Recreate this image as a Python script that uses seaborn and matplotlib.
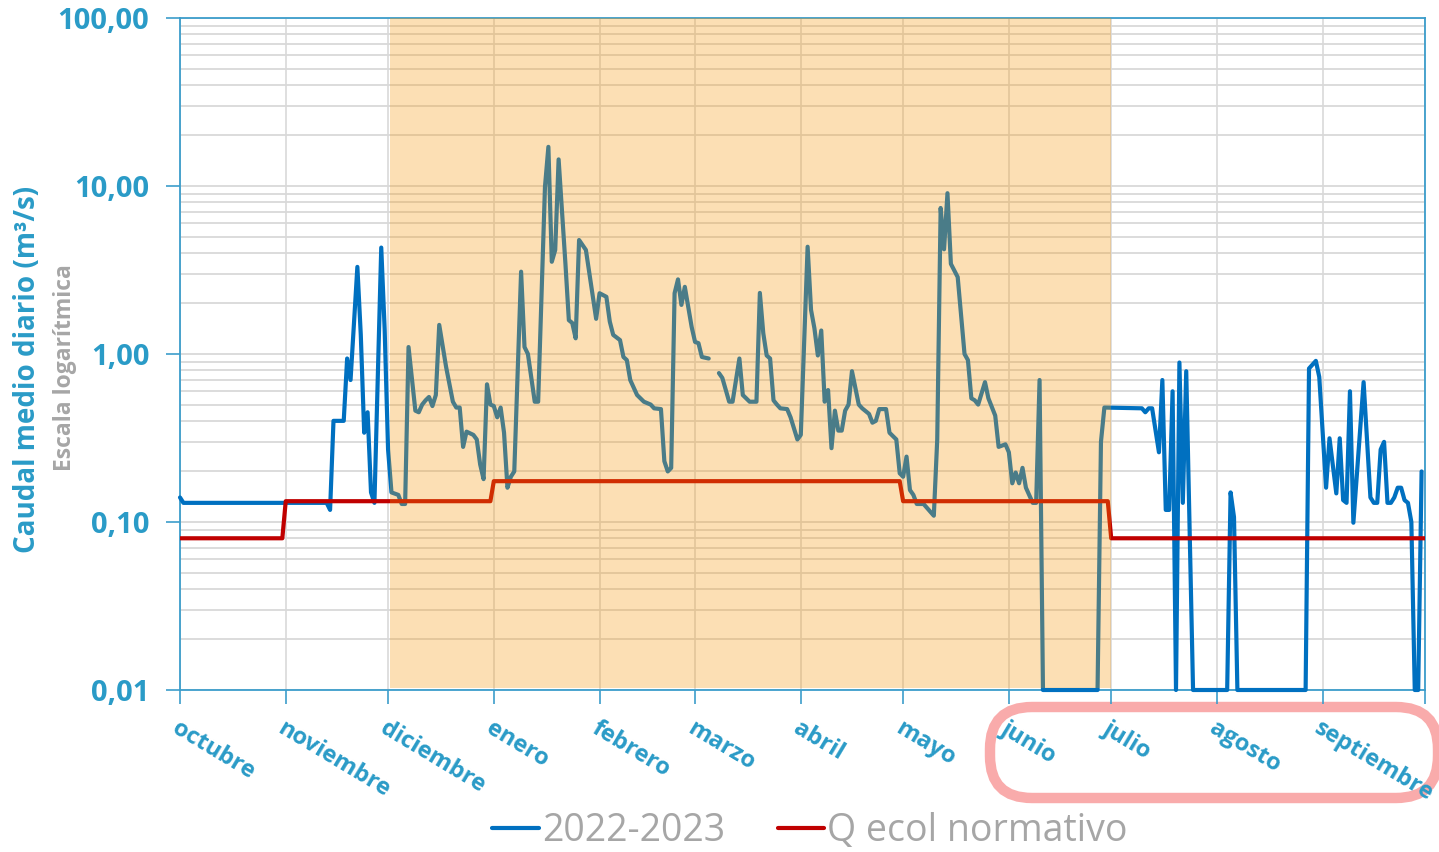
import numpy as np
import pandas as pd
import matplotlib
matplotlib.use("Agg")
import matplotlib.pyplot as plt
import matplotlib.transforms as mtransforms
from matplotlib.patches import FancyBboxPatch
from matplotlib.lines import Line2D
from matplotlib.ticker import FixedLocator, FuncFormatter, LogLocator, NullFormatter
import seaborn as sns

# ---------------- data ----------------
start_date = "2022-10-01"
month_labels = ["octubre", "noviembre", "diciembre", "enero", "febrero", "marzo",
                "abril", "mayo", "junio", "julio", "agosto", "septiembre"]
y_ticks = [0.01, 0.1, 1, 10, 100]
y_tick_labels = ["0,01", "0,10", "1,00", "10,00", "100,00"]
series_names = ["2022-2023", "Q ecol normativo"]
band_dates = ["2022-12-01", "2023-07-01"]

# daily flow 2022-2023 (day offset from 1 Oct 2022, m3/s); nan = missing data
blue_day = [0, 1, 43, 44, 45, 48, 49, 50, 52, 53, 54, 55, 56, 57, 59, 60,
            61, 62, 64, 65, 66, 67, 69, 70, 71, 72, 73, 74, 75, 76, 78, 80, 81, 82, 83, 84,
            86, 87, 88, 89, 90, 91,
            92, 93, 94, 95, 96, 97, 98, 100, 101, 102, 104, 105, 107, 108, 109, 110, 111,
            113, 114, 115, 116, 117, 119, 122,
            123, 125, 126, 127, 129, 130, 131, 132, 134, 136, 138, 139, 141, 142, 143, 144,
            145, 146, 147, 148, 150,
            151, 152, 153, 155, 156, 158, 159, 161, 162, 164, 165, 167, 169, 170, 171, 172,
            173, 174, 175, 176, 178, 179, 181,
            182, 184, 185, 186, 187, 188, 189, 190, 191, 192, 193, 194, 195, 196, 197, 199,
            200, 202, 203, 204, 205, 207, 208, 210, 211,
            212, 213, 214, 215, 216, 218, 221, 222, 223, 224, 225, 226, 228, 230, 231, 232,
            233, 234, 236, 237, 239, 240,
            242, 243, 244, 245, 246, 247, 248, 250, 251, 252, 253, 269, 270, 271,
            282, 283, 284, 285, 287, 288, 289, 290, 291, 292, 293, 294, 295, 297, 307, 308,
            309, 310, 330, 331, 333, 334, 336, 337, 339, 340, 341, 342, 343, 344, 347, 349,
            350, 351, 352, 353, 354, 355, 356, 357, 358, 359, 360, 361, 362, 363, 364]
blue_q = [0.14, 0.13, 0.13, 0.118, 0.40, 0.40, 0.94, 0.70, 3.3, 1.3, 0.34, 0.45, 0.15, 0.13, 4.3, 1.4,
          0.27, 0.15, 0.145, 0.128, 0.128, 1.10, 0.46, 0.45, 0.50, 0.53, 0.555, 0.49, 0.57, 1.49, 0.84, 0.52, 0.48, 0.48, 0.28, 0.345,
          0.33, 0.31, 0.22, 0.18, 0.66, 0.50,
          0.49, 0.42, 0.48, 0.34, 0.16, 0.186, 0.20, 3.09, 1.10, 1.0, 0.52, 0.52, 9.9, 17.1, 3.54, 4.16, 14.4,
          3.44, 1.59, 1.53, 1.24, 4.77, 4.16, 1.62,
          2.30, 2.19, 1.56, 1.30, 1.21, 0.96, 0.92, 0.70, 0.57, 0.52, 0.50, 0.475, 0.47, 0.23, 0.20, 0.21,
          2.30, 2.78, 1.96, 2.51, 1.45,
          1.18, 1.16, 0.96, 0.94, np.nan, 0.77, 0.72, 0.52, 0.52, 0.94, 0.57, 0.52, 0.52, 2.31, 1.33, 0.98,
          0.94, 0.53, 0.50, 0.475, 0.47, 0.42, 0.31,
          0.33, 4.35, 1.83, 1.42, 0.98, 1.38, 0.52, 0.61, 0.275, 0.46, 0.35, 0.35, 0.46, 0.50, 0.79, 0.50,
          0.475, 0.44, 0.39, 0.40, 0.47, 0.47, 0.34, 0.31, 0.195,
          0.186, 0.245, 0.155, 0.145, 0.128, 0.128, 0.109, 0.31, 7.4, 4.2, 9.06, 3.44, 2.87, 1.0, 0.92, 0.545,
          0.53, 0.50, 0.68, 0.545, 0.43, 0.28,
          0.29, 0.26, 0.17, 0.197, 0.17, 0.21, 0.16, 0.13, 0.13, 0.70, 0.01, 0.01, 0.30, 0.48,
          0.475, 0.45, 0.475, 0.475, 0.26, 0.70, 0.118, 0.118, 0.60, 0.01, 0.89, 0.13, 0.79, 0.01, 0.01, 0.15,
          0.107, 0.01, 0.01, 0.82, 0.91, 0.73, 0.16, 0.315, 0.148, 0.315, 0.135, 0.13, 0.60, 0.099, 0.68, 0.14,
          0.13, 0.13, 0.27, 0.30, 0.13, 0.13, 0.14, 0.16, 0.16, 0.135, 0.13, 0.10, 0.01, 0.01, 0.20]

# ecological flow regime (day offset, m3/s)
red_day = [0, 30, 31, 91, 92, 211, 212, 272, 273, 365]
red_q = [0.08, 0.08, 0.133, 0.133, 0.175, 0.175, 0.133, 0.133, 0.08, 0.08]

# ---------------- frames ----------------
base = pd.Timestamp(start_date)
blue = pd.DataFrame({"date": base + pd.to_timedelta(blue_day, unit="D"), "q": blue_q})
blue["seg"] = blue["q"].isna().cumsum()
blue = blue.dropna()
red = pd.DataFrame({"date": base + pd.to_timedelta(red_day, unit="D"), "q": red_q})
month_starts = pd.date_range(start_date, periods=13, freq="MS")

# ---------------- style ----------------
sns.set_theme(style="white")
plt.rcParams["font.family"] = ["Open Sans", "DejaVu Sans"]

BLUE = "#0070C0"
RED = "#C00000"
SPINE = "#3C9DCB"
LAB = "#2A9BC7"
GRID = "#D9D9D9"
GRAY = "#A6A6A6"

W, H = 1439, 852
fig = plt.figure(figsize=(W / 100, H / 100), dpi=100)
ax = fig.add_axes([180 / W, 1 - 690 / H, (1425 - 180) / W, (690 - 18) / H])

sns.lineplot(data=blue, x="date", y="q", units="seg", estimator=None, color=BLUE,
             lw=3.0, ax=ax, zorder=3, clip_on=False)
sns.lineplot(data=red, x="date", y="q", color=RED, lw=3.0, ax=ax, zorder=4)

ax.axvspan(pd.Timestamp(band_dates[0]) + pd.Timedelta(hours=12), pd.Timestamp(band_dates[1]),
           ymin=0.003, ymax=1, color="#F79808", alpha=0.30, lw=0, zorder=5)

ax.set_yscale("log")
ax.set_ylim(0.01, 100)
ax.set_xlim(month_starts[0], month_starts[-1])

ax.yaxis.set_major_locator(FixedLocator(y_ticks))
ax.yaxis.set_major_formatter(FuncFormatter(
    lambda v, p: y_tick_labels[int(np.argmin([abs(np.log10(t) - np.log10(v)) for t in y_ticks]))]))
ax.yaxis.set_minor_locator(LogLocator(base=10, subs=np.arange(2, 10)))
ax.yaxis.set_minor_formatter(NullFormatter())

ax.set_xticks(month_starts)
ax.set_xticklabels(month_labels + [""], rotation=-31, ha="left", rotation_mode="anchor",
                   fontsize=17, color=LAB, fontweight="bold")
shift = mtransforms.ScaledTranslation(5 / 100, 3 / 100, fig.dpi_scale_trans)
for lbl in ax.get_xticklabels():
    lbl.set_transform(lbl.get_transform() + shift)

ax.grid(True, which="both", axis="y", color=GRID, lw=1.3, zorder=0)
ax.grid(True, which="major", axis="x", color=GRID, lw=1.2, zorder=0)
ax.set_axisbelow(True)

ax.tick_params(axis="y", which="major", length=10, width=1.2, color=SPINE, left=True,
               labelsize=21, labelcolor=LAB, pad=12)
ax.tick_params(axis="y", which="minor", length=0)
ax.tick_params(axis="x", which="major", length=10, width=1.2, color=SPINE, bottom=True, pad=9)
for lbl in ax.get_yticklabels():
    lbl.set_fontweight("bold")

for s in ax.spines.values():
    s.set_color(SPINE)
    s.set_linewidth(1.3)
    s.set_visible(True)

ax.set_xlabel("")
ax.set_ylabel("")
if ax.get_legend() is not None:
    ax.get_legend().remove()

fig.text(28 / W, 1 - 369 / H, "Caudal medio diario (m³/s)", rotation=90, ha="center", va="center",
         fontsize=20, fontweight="bold", color=LAB)
fig.text(65 / W, 1 - 368 / H, "Escala logarítmica", rotation=90, ha="center", va="center",
         fontsize=16.5, fontweight="bold", color=GRAY)

handles = [Line2D([], [], color=BLUE, lw=3), Line2D([], [], color=RED, lw=3)]
fig.legend(handles, series_names, loc="center", bbox_to_anchor=(810 / W, 1 - 831 / H), ncol=2,
           frameon=False, fontsize=27, handlelength=1.25, handletextpad=0.08, columnspacing=1.4,
           labelcolor=GRAY, borderpad=0, borderaxespad=0)

box = FancyBboxPatch((990, H - 798), 1438 - 990, 798 - 707,
                     boxstyle="round,pad=0,rounding_size=42", transform=mtransforms.IdentityTransform(),
                     fill=False, ec="#F9ABAB", lw=7.5, zorder=-1, clip_on=False)
fig.add_artist(box)

fig.savefig("out.png", dpi=100, facecolor="white")
